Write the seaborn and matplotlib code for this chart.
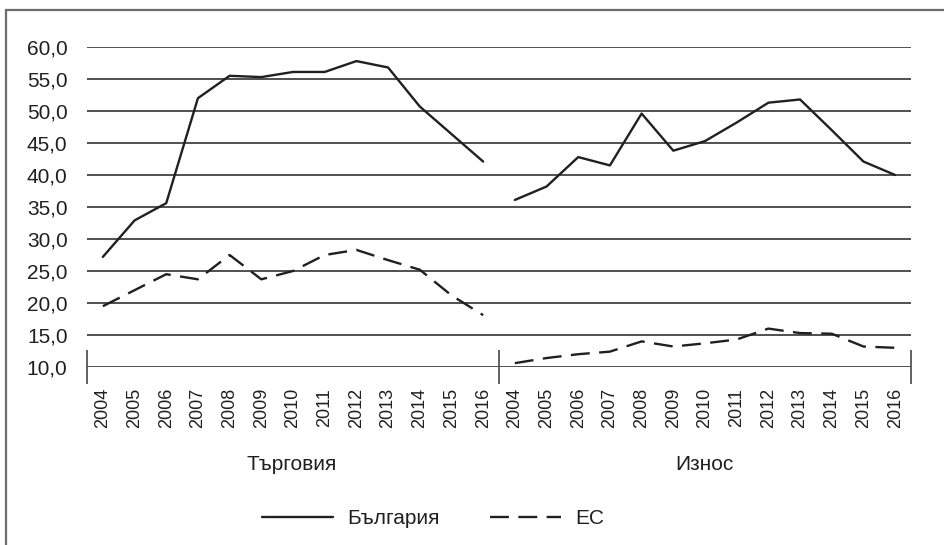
import numpy as np
import pandas as pd
import seaborn as sns
import matplotlib.pyplot as plt
from matplotlib.patches import Rectangle
from matplotlib.lines import Line2D

# chart data
years = ['2004', '2005', '2006', '2007', '2008', '2009', '2010',
         '2011', '2012', '2013', '2014', '2015', '2016']
groups = ['Търговия', 'Износ']
series_names = ['България', 'ЕС']

trade_bg = [27.2, 32.9, 35.6, 52.0, 55.5, 55.3, 56.1, 56.1, 57.8, 56.8, 50.7, 46.4, 42.1]
trade_eu = [19.5, 22.0, 24.5, 23.7, 27.5, 23.7, 25.0, 27.5, 28.3, 26.7, 25.2, 21.2, 18.1]
export_bg = [36.1, 38.2, 42.8, 41.5, 49.6, 43.8, 45.3, 48.2, 51.3, 51.8, 47.0, 42.1, 40.0]
export_eu = [10.6, 11.4, 12.0, 12.4, 14.0, 13.2, 13.7, 14.3, 16.0, 15.3, 15.2, 13.2, 13.0]

yticks = [10, 15, 20, 25, 30, 35, 40, 45, 50, 55, 60]

# long table, one row per point
rows = []
values = {('Търговия', 'България'): trade_bg, ('Търговия', 'ЕС'): trade_eu,
          ('Износ', 'България'): export_bg, ('Износ', 'ЕС'): export_eu}
for gi, g in enumerate(groups):
    for s in series_names:
        for yi, y in enumerate(years):
            rows.append({'group': g, 'series': s, 'year': y,
                         'pos': gi * len(years) + yi, 'value': values[(g, s)][yi]})
df = pd.DataFrame(rows)

sns.set_style('white')
plt.rcParams['font.family'] = ['Liberation Sans', 'DejaVu Sans']

ink = '#231f20'
dash = (8, 4)
fig = plt.figure(figsize=(9.44, 5.45), dpi=100)
ax = fig.add_axes([87 / 944, 1 - 367 / 545, (911 - 87) / 944, 320 / 545])

for g in groups:
    sns.lineplot(data=df[df['group'] == g], x='pos', y='value', style='series',
                 style_order=series_names, dashes={'България': '', 'ЕС': dash},
                 color=ink, linewidth=1.7, legend=False, ax=ax)

ax.set_xlim(-0.5, len(years) * len(groups) - 0.5)
ax.set_ylim(10, 60)
ax.set_yticks(yticks)
ax.set_yticklabels([f'{v:.1f}'.replace('.', ',') for v in yticks], fontsize=15, color=ink)
ax.tick_params(axis='y', length=0, pad=14)
for v in yticks:
    ax.axhline(v, color=ink, linewidth=1.1, zorder=0)

# group separators as major ticks, year labels as minor ticks
ax.set_xticks([-0.5, len(years) - 0.5, 2 * len(years) - 0.5])
ax.set_xticklabels([])
ax.tick_params(axis='x', which='major', bottom=True, direction='inout',
               length=24, width=1.3, color='#555555')
ax.set_xticks(np.arange(len(years) * len(groups)), minor=True)
ax.set_xticklabels(years * len(groups), minor=True, rotation=90, fontsize=13, color=ink)
ax.tick_params(axis='x', which='minor', bottom=True, length=0, pad=15)
ax.set_xlabel('')
ax.set_ylabel('')
for sp in ax.spines.values():
    sp.set_visible(False)

fig.text(292 / 944, 1 - 465 / 545, 'Търговия', ha='center', va='center', fontsize=15, color=ink)
fig.text(704 / 944, 1 - 465 / 545, 'Износ', ha='center', va='center', fontsize=15, color=ink)

handles = [Line2D([], [], color=ink, linewidth=1.7),
           Line2D([], [], color=ink, linewidth=1.7, dashes=dash)]
fig.legend(handles, series_names, loc='center', bbox_to_anchor=(433 / 944, 1 - 519 / 545),
           ncol=2, frameon=False, fontsize=15, handlelength=3.4, handletextpad=0.7,
           columnspacing=2.4, labelcolor=ink)

# outer frame, only top and left edges visible
fig.patches.append(Rectangle((6 / 944, -0.2), 1.2, 1.2 - 10 / 545,
                             transform=fig.transFigure, fill=False,
                             edgecolor='#6d6d6d', linewidth=1.6))

fig.savefig('out.png', dpi=100)
